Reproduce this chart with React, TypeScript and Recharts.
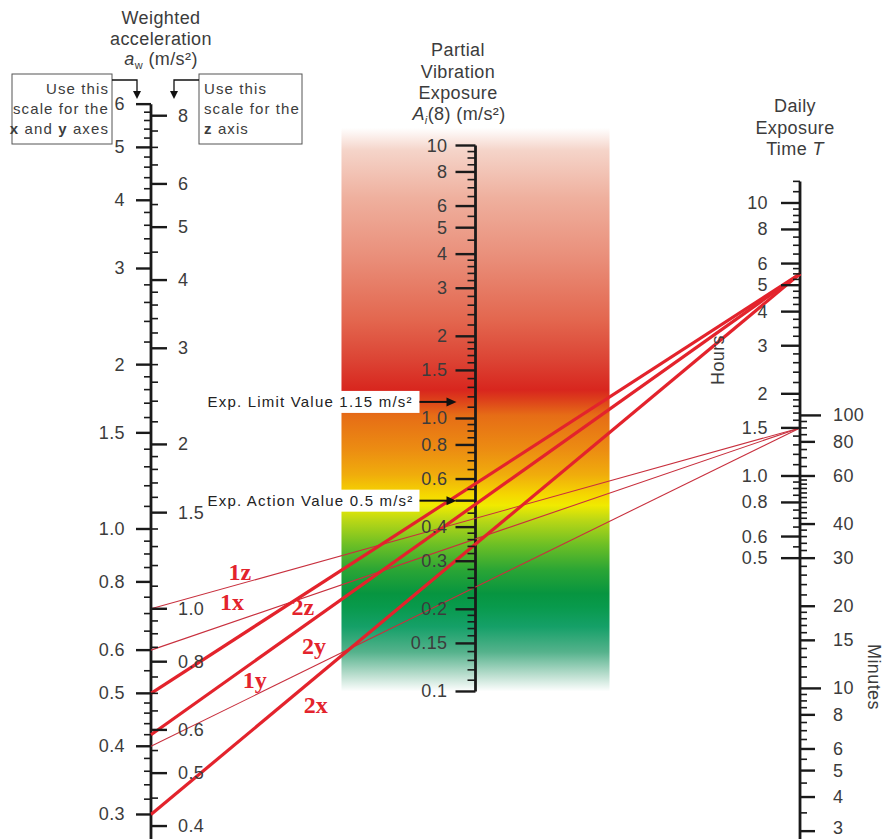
import React from "react";
import { ComposedChart, XAxis, YAxis, Line, Scatter, ReferenceArea } from "recharts";

const W = 885;
const H = 839;
const INK = "#1a1a1a";
const TEXT = "#3c3c3c";
const SANS = "'Liberation Sans', Arial, sans-serif";

// scale values
const XY_MAJOR = [0.3, 0.4, 0.5, 0.6, 0.8, 1.0, 1.5, 2, 3, 4, 5, 6];
const XY_LABELS = ["0.3", "0.4", "0.5", "0.6", "0.8", "1.0", "1.5", "2", "3", "4", "5", "6"];
const XY_MINOR = [0.32, 0.34, 0.36, 0.38, 0.42, 0.44, 0.46, 0.48, 0.55, 0.65, 0.7, 0.75, 0.85, 0.9, 0.95,
  1.1, 1.2, 1.3, 1.4, 1.6, 1.7, 1.8, 1.9, 2.2, 2.4, 2.6, 2.8, 3.2, 3.4, 3.6, 3.8, 4.2, 4.4, 4.6, 4.8,
  5.2, 5.4, 5.6, 5.8];

const Z_MAJOR = [0.4, 0.5, 0.6, 0.8, 1.0, 1.5, 2, 3, 4, 5, 6, 8];
const Z_LABELS = ["0.4", "0.5", "0.6", "0.8", "1.0", "1.5", "2", "3", "4", "5", "6", "8"];
const Z_MINOR = [0.45, 0.55, 0.65, 0.7, 0.75, 0.85, 0.9, 0.95, 1.1, 1.2, 1.3, 1.4, 1.6, 1.7, 1.8, 1.9,
  2.2, 2.4, 2.6, 2.8, 3.2, 3.4, 3.6, 3.8, 4.5, 5.5, 6.5, 7, 7.5];

const MID_MAJOR = [0.1, 0.15, 0.2, 0.3, 0.4, 0.5, 0.6, 0.8, 1.0, 1.5, 2, 3, 4, 5, 6, 8, 10];
const MID_LABELS = ["0.1", "0.15", "0.2", "0.3", "0.4", "", "0.6", "0.8", "1.0", "1.5", "2", "3", "4", "5", "6", "8", "10"];
const MID_MINOR = [0.11, 0.12, 0.13, 0.14, 0.16, 0.17, 0.18, 0.19, 0.22, 0.24, 0.26, 0.28, 0.32, 0.34,
  0.36, 0.38, 0.45, 0.55, 0.65, 0.7, 0.75, 0.85, 0.9, 0.95, 1.1, 1.2, 1.3, 1.4, 1.6, 1.7, 1.8, 1.9,
  2.2, 2.4, 2.6, 2.8, 3.2, 3.4, 3.6, 3.8, 4.5, 5.5, 6.5, 7, 7.5, 8.5, 9, 9.5];

const HOUR_MAJOR = [0.5, 0.6, 0.8, 1.0, 1.5, 2, 3, 4, 5, 6, 8, 10];
const HOUR_LABELS = ["0.5", "0.6", "0.8", "1.0", "1.5", "2", "3", "4", "5", "6", "8", "10"];
const HOUR_MINOR = [0.55, 0.65, 0.7, 0.75, 0.85, 0.9, 0.95, 1.1, 1.2, 1.3, 1.4, 1.6, 1.7, 1.8, 1.9,
  2.2, 2.4, 2.6, 2.8, 3.25, 3.5, 3.75, 4.25, 4.5, 4.75, 5.25, 5.5, 5.75, 6.5, 7, 7.5, 8.5, 9, 9.5, 11, 12];

const MIN_MAJOR = [3, 4, 5, 6, 8, 10, 15, 20, 30, 40, 60, 80, 100];
const MIN_LABELS = ["3", "4", "5", "6", "8", "10", "15", "20", "30", "40", "60", "80", "100"];
const MIN_MINOR = [3.5, 4.5, 5.5, 6.5, 7, 7.5, 8.5, 9, 9.5, 11, 12, 13, 14, 16, 17, 18, 19, 22, 24, 26,
  28, 32, 34, 36, 38, 42, 44, 46, 48, 50, 52, 54, 56, 58, 65, 70, 75, 85, 90, 95];

// example lines: acceleration on the left scale, exposure time (hours) on the right
const LINE_NAMES = ["1z", "1x", "1y", "2z", "2y", "2x"];
const LINE_SCALE = ["z", "xy", "xy", "z", "xy", "xy"];
const LINE_ACCEL = [1.0, 0.6, 0.4, 0.7, 0.42, 0.3];
const LINE_HOURS = [1.5, 1.5, 1.5, 5.5, 5.5, 5.5];

const LIMITS = [1.15, 0.5];
const LIMIT_TEXT = ["Exp. Limit Value 1.15 m/s\u00b2", "Exp. Action Value 0.5 m/s\u00b2"];

// nomogram geometry: x = 0 left scale, 1 middle, 2 right; y in decades of a_w
const LEFT = 0;
const MID = 1;
const RIGHT = 2;
const X_DOMAIN = [-0.4653, 2.2619];
const Y_DOMAIN = [-0.5678, 0.9689];
const Z_FACTOR = 1.4;
const uXY = (v: number) => Math.log10(v);
const uZ = (v: number) => Math.log10(v / Z_FACTOR);
const uMid = (a: number) => 0.2024 + 0.5 * Math.log10(a);
const uHours = (h: number) => 0.0971 + 0.5 * Math.log10(h);
const uMin = (m: number) => uHours(m / 60);

// label placement along each line (x units, px offset)
const LABEL_AT: Record<string, [number, number]> = {
  "1z": [0.274, -12],
  "1x": [0.25, -20],
  "1y": [0.32, -15],
  "2z": [0.468, 12],
  "2y": [0.502, 27],
  "2x": [0.508, 28],
};

function ticks(x: number, u: (v: number) => number, major: number[], labels: string[], minor: number[]) {
  return [
    ...major.map((v, i) => ({ x, y: u(v), label: labels[i], major: true, v })),
    ...minor.map((v) => ({ x, y: u(v), label: "", major: false, v })),
  ];
}

function tickShape(dir: number, majorLen: number, minorLen: number, gap: number, longOnes: number[] = []) {
  return (props: any) => {
    const { cx, cy, payload } = props;
    let len = payload.major ? majorLen : minorLen;
    if (longOnes.includes(payload.v)) len = majorLen + 6;
    return (
      <g>
        <line x1={cx} x2={cx + dir * len} y1={cy} y2={cy} stroke={INK} strokeWidth={payload.major ? 2.4 : 1.6} />
        {payload.label ? (
          <text
            x={cx + dir * gap}
            y={Math.min(cy, H - 11)}
            textAnchor={dir < 0 ? "end" : "start"}
            dominantBaseline="central"
            fontFamily={SANS}
            fontSize={18}
            letterSpacing={0.4}
            fill={TEXT}
          >
            {payload.label}
          </text>
        ) : null}
      </g>
    );
  };
}

function LimitShape(props: any) {
  const { cx, cy, payload } = props;
  const right = cx - 56;
  return (
    <g>
      <rect x={right - 214} y={cy - 11} width={214} height={22} fill="#fff" />
      <text
        x={right - 212}
        y={cy}
        dominantBaseline="central"
        fontFamily={SANS}
        fontSize={15}
        letterSpacing={1.2}
        fill="#222"
      >
        {payload.text}
      </text>
      <line x1={right} x2={cx - 28} y1={cy} y2={cy} stroke="#111" strokeWidth={2} />
      <polygon points={`${cx - 19},${cy} ${cx - 29},${cy - 4.5} ${cx - 29},${cy + 4.5}`} fill="#111" />
    </g>
  );
}

function LineLabel(props: any) {
  const { cx, cy, payload } = props;
  return (
    <text
      x={cx}
      y={cy + payload.dy}
      textAnchor="middle"
      dominantBaseline="central"
      fontFamily="'Liberation Serif', 'Times New Roman', serif"
      fontWeight="bold"
      fontSize={24}
      fill="#e3232c"
    >
      {payload.name}
    </text>
  );
}

function BandShape(props: any) {
  const { x, y, width, height } = props;
  const stops: [number, string][] = [
    [0, "#ffffff"], [0.04, "#f5d4c9"], [0.124, "#efb09e"], [0.234, "#e98d78"], [0.34, "#e3674f"],
    [0.41, "#dc4535"], [0.465, "#d8261e"], [0.48, "#dc3c1b"], [0.51, "#e66d16"], [0.57, "#ec8c12"],
    [0.615, "#f0ac0c"], [0.652, "#f5d800"], [0.67, "#f0ea00"], [0.695, "#bcd815"], [0.74, "#6cbf25"],
    [0.785, "#2aa535"], [0.826, "#079540"], [0.85, "#089a4c"], [0.885, "#15a068"], [0.93, "#55b28c"],
    [0.97, "#b8ddcd"], [1, "#ffffff"],
  ];
  return (
    <g>
      <defs>
        <linearGradient id="bandFill" x1="0" y1="0" x2="0" y2="1">
          {stops.map(([o, c]) => (
            <stop key={o} offset={o} stopColor={c} />
          ))}
        </linearGradient>
      </defs>
      <rect x={x} y={y} width={width} height={height} fill="url(#bandFill)" />
    </g>
  );
}

export default function App() {
  const leftTicksXY = ticks(LEFT, uXY, XY_MAJOR, XY_LABELS, XY_MINOR);
  const leftTicksZ = ticks(LEFT, uZ, Z_MAJOR, Z_LABELS, Z_MINOR);
  const midTicks = ticks(MID, uMid, MID_MAJOR, MID_LABELS, MID_MINOR);
  const hourTicks = ticks(RIGHT, uHours, HOUR_MAJOR, HOUR_LABELS, HOUR_MINOR);
  const minTicks = ticks(RIGHT, uMin, MIN_MAJOR, MIN_LABELS, MIN_MINOR);

  const lines = LINE_NAMES.map((name, i) => {
    const y0 = LINE_SCALE[i] === "z" ? uZ(LINE_ACCEL[i]) : uXY(LINE_ACCEL[i]);
    const y1 = uHours(LINE_HOURS[i]);
    return { name, thick: name[0] === "2", data: [{ x: LEFT, y: y0 }, { x: RIGHT, y: y1 }] };
  });
  const lineLabels = lines.map((l) => {
    const [t, dy] = LABEL_AT[l.name];
    const [a, b] = l.data;
    return { name: l.name, dy, x: t, y: a.y + ((b.y - a.y) * (t - a.x)) / (b.x - a.x) };
  });
  const limits = LIMITS.map((v, i) => ({ x: MID, y: uMid(v), text: LIMIT_TEXT[i] }));

  const axisLines = [
    [{ x: LEFT, y: uXY(6) }, { x: LEFT, y: uXY(0.27) }],
    [{ x: MID, y: uMid(10) }, { x: MID, y: uMid(0.1) }],
    [{ x: RIGHT, y: uHours(12) }, { x: RIGHT, y: uMin(2.8) }],
  ];

  return (
    <div style={{ position: "absolute", left: 0, top: 0, width: W, height: H, background: "#fff" }}>
      <ComposedChart width={W} height={H} margin={{ top: 0, right: 0, bottom: 0, left: 0 }}>
        <XAxis type="number" dataKey="x" domain={X_DOMAIN} hide allowDataOverflow />
        <YAxis type="number" dataKey="y" domain={Y_DOMAIN} hide allowDataOverflow />
        <ReferenceArea x1={MID - 0.413} x2={MID + 0.413} y1={uMid(0.1)} y2={uMid(11.6)} shape={BandShape} />
        {axisLines.map((d, i) => (
          <Line
            key={"ax" + i}
            data={d}
            dataKey="y"
            type="linear"
            stroke={INK}
            strokeWidth={2.8}
            dot={false}
            activeDot={false}
            isAnimationActive={false}
          />
        ))}
        <Scatter data={leftTicksXY} shape={tickShape(-1, 15, 7, 26)} isAnimationActive={false} />
        <Scatter data={leftTicksZ} shape={tickShape(1, 16, 7, 27)} isAnimationActive={false} />
        <Scatter data={midTicks} shape={tickShape(-1, 20, 8, 28)} isAnimationActive={false} />
        <Scatter data={hourTicks} shape={tickShape(-1, 19, 7, 32)} isAnimationActive={false} />
        <Scatter data={minTicks} shape={tickShape(1, 15, 7, 33, [10, 100])} isAnimationActive={false} />
        <Scatter data={limits} shape={LimitShape} isAnimationActive={false} />
        {lines.map((l) => (
          <Line
            key={l.name}
            data={l.data}
            dataKey="y"
            type="linear"
            stroke={l.thick ? "#e3232c" : "#c8303e"}
            strokeWidth={l.thick ? 3.2 : 1.1}
            dot={false}
            activeDot={false}
            isAnimationActive={false}
          />
        ))}
        <Scatter data={lineLabels} shape={LineLabel} isAnimationActive={false} />
      </ComposedChart>
      <svg width={W} height={H} style={{ position: "absolute", left: 0, top: 0, pointerEvents: "none" }}>
        <g fontFamily={SANS} fontSize={18} letterSpacing={0.4} fill={TEXT} textAnchor="middle">
          <text x={161} y={24}>Weighted</text>
          <text x={161} y={45}>acceleration</text>
          <text x={161} y={65}>
            <tspan fontStyle="italic">a</tspan>
            <tspan fontSize={11} dy={4}>w</tspan>
            <tspan dy={-4}> (m/s²)</tspan>
          </text>
          <text x={458} y={56}>Partial</text>
          <text x={458} y={78}>Vibration</text>
          <text x={458} y={99}>Exposure</text>
          <text x={459} y={120}>
            <tspan fontStyle="italic">A</tspan>
            <tspan fontSize={11} dy={4} fontStyle="italic">i</tspan>
            <tspan dy={-4}>(8) (m/s²)</tspan>
          </text>
          <text x={795} y={112}>Daily</text>
          <text x={795} y={134}>Exposure</text>
          <text x={795} y={155}>
            Time <tspan fontStyle="italic">T</tspan>
          </text>
          <text x={718} y={360} transform="rotate(-90 718 360)" dominantBaseline="central">Hours</text>
          <text x={874} y={677} transform="rotate(90 874 677)" dominantBaseline="central">Minutes</text>
        </g>
        <g fontFamily={SANS} fontSize={15} letterSpacing={1.1} fill={TEXT}>
          <rect x={12} y={74} width={100} height={70} fill="#fff" stroke="#555" />
          <text x={109} y={94} textAnchor="end">Use this</text>
          <text x={109} y={114} textAnchor="end">scale for the</text>
          <text x={109} y={134} textAnchor="end">
            <tspan fontWeight="bold">x</tspan> and <tspan fontWeight="bold">y</tspan> axes
          </text>
          <rect x={199} y={74} width={103} height={70} fill="#fff" stroke="#555" />
          <text x={204} y={94}>Use this</text>
          <text x={204} y={114}>scale for the</text>
          <text x={204} y={134}>
            <tspan fontWeight="bold">z</tspan> axis
          </text>
        </g>
        <g stroke="#111" strokeWidth={1.3} fill="none">
          <polyline points="112,80 137,80 137,92" />
          <polyline points="199,80 174,80 174,92" />
        </g>
        <polygon points="133,91 141,91 137,99" fill="#111" />
        <polygon points="170,91 178,91 174,99" fill="#111" />
      </svg>
    </div>
  );
}
